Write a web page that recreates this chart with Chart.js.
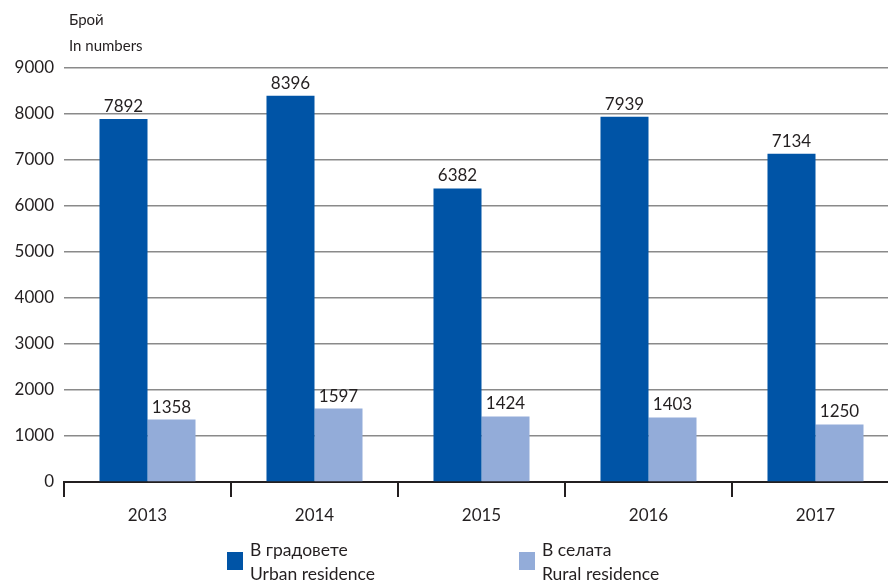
<!DOCTYPE html>
<html><head><meta charset="utf-8">
<script src="https://cdn.jsdelivr.net/npm/chart.js@4/dist/chart.umd.min.js"></script>
<style>
html,body{margin:0;padding:0;overflow:hidden;background:#fff;width:888px;height:586px;}
#wrap{position:relative;width:888px;height:586px;}
canvas{position:absolute;left:0;top:0;}
.t{position:absolute;font-family:Lato,"Open Sans",sans-serif;color:#231f20;white-space:nowrap;}
.sq{position:absolute;width:16px;height:18px;}
</style></head>
<body><div id="wrap">
<canvas id="c" width="900" height="586"></canvas>
<div class="t" id="ytitle" style="left:69px;top:6px;font-size:15px;line-height:26px;"></div>
<div id="legend"></div>
</div>
<script>
const categories = ["2013","2014","2015","2016","2017"];
const urbanValues = [7892, 8396, 6382, 7939, 7134];
const ruralValues = [1358, 1597, 1424, 1403, 1250];
const seriesLabels = [["В градовете","Urban residence"],["В селата","Rural residence"]];
const axisTitle = ["Брой","In numbers"];
const colors = ["#0054a6","#93acd9"];

document.getElementById('ytitle').innerHTML = axisTitle.join('<br>');
const lg = document.getElementById('legend');
const legendX = [227, 519];
seriesLabels.forEach((l,i)=>{
  const s=document.createElement('div'); s.className='sq';
  s.style.left=legendX[i]+'px'; s.style.top='552px'; s.style.background=colors[i]; lg.appendChild(s);
  const t=document.createElement('div'); t.className='t';
  t.style.left=(legendX[i]+23)+'px'; t.style.top='538px'; t.style.fontSize='17.5px'; t.style.lineHeight='24px';
  t.innerHTML=l.join('<br>'); lg.appendChild(t);
});

const valueLabels = {
  id:'valueLabels',
  afterDatasetsDraw(chart){
    const ctx=chart.ctx;
    ctx.save();
    ctx.font='17px Lato, "Open Sans", sans-serif';
    ctx.fillStyle='#231f20';
    ctx.textAlign='center';
    ctx.textBaseline='bottom';
    chart.data.datasets.forEach((ds,di)=>{
      chart.getDatasetMeta(di).data.forEach((bar,i)=>{
        ctx.fillText(String(ds.data[i]), bar.x, bar.y-4);
      });
    });
    ctx.restore();
  }
};

new Chart(document.getElementById('c'),{
  type:'bar',
  data:{labels:categories,datasets:[
    {label:seriesLabels[0].join(' '),data:urbanValues,backgroundColor:colors[0],categoryPercentage:0.575,barPercentage:1},
    {label:seriesLabels[1].join(' '),data:ruralValues,backgroundColor:colors[1],categoryPercentage:0.575,barPercentage:1}
  ]},
  options:{
    responsive:false,animation:false,
    layout:{padding:{top:68,right:1,left:0,bottom:0}},
    plugins:{legend:{display:false},tooltip:{enabled:false}},
    scales:{
      x:{
        grid:{drawOnChartArea:false,color:'#231f20',lineWidth:2,tickLength:15,offset:true},
        border:{color:'#231f20',width:2},
        ticks:{color:'#231f20',font:{family:'Lato, "Open Sans", sans-serif',size:17},padding:8},
        afterFit(s){s.height=104;}
      },
      y:{
        min:0,max:9000,
        ticks:{stepSize:1000,color:'#231f20',font:{family:'Lato, "Open Sans", sans-serif',size:17},padding:10,
          callback:(v)=>String(v)},
        grid:{color:'#8a8a8a',lineWidth:1.5,drawTicks:false},
        border:{display:false},
        afterFit(s){s.width=64;}
      }
    }
  },
  plugins:[valueLabels]
});
</script>
</body></html>
